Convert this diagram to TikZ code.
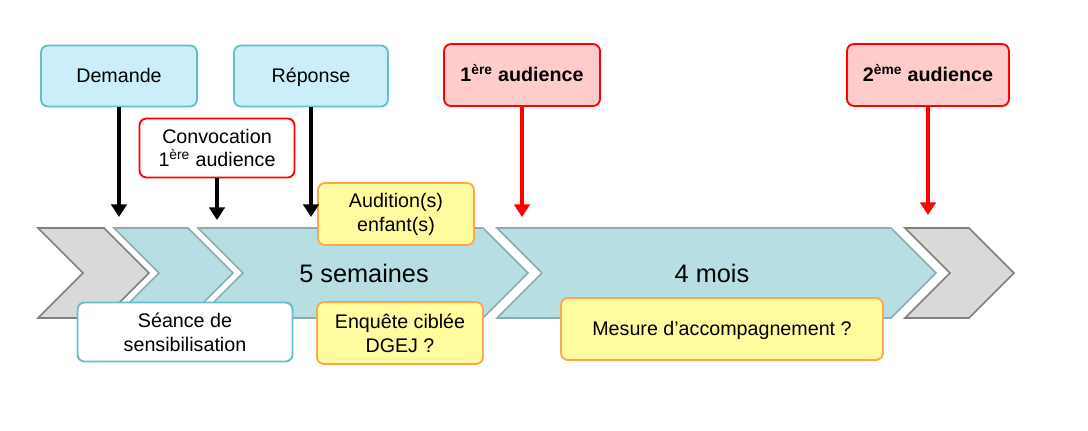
\documentclass[tikz,border=0pt]{standalone}
\usepackage{fontspec}
\setmainfont{Liberation Sans}
\usetikzlibrary{arrows.meta}

\definecolor{tealfill}{RGB}{183,222,226}
\definecolor{tealline}{RGB}{140,172,174}
\definecolor{greyfill}{RGB}{217,217,217}
\definecolor{greyline}{RGB}{128,128,128}
\definecolor{bluefill}{RGB}{204,238,250}
\definecolor{blueline}{RGB}{100,190,200}
\definecolor{pinkfill}{RGB}{255,204,204}
\definecolor{redline}{RGB}{255,0,0}
\definecolor{yelfill}{RGB}{255,252,160}
\definecolor{orangeline}{RGB}{252,168,72}

\tikzset{
    box/.style={rounded corners=5pt, line width=1.3pt, align=center,
        font=\fontsize{14}{17}\selectfont, inner sep=2pt},
    oneline/.style={text height=10pt, text depth=0.5pt},
    bluebox/.style={box, oneline, draw=blueline, fill=bluefill},
    pinkbox/.style={box, oneline, draw=redline, fill=pinkfill, font=\fontsize{14}{17}\selectfont\bfseries},
    redbox/.style={box, draw=redline, fill=white},
    whitebox/.style={box, draw=blueline, fill=white},
    yelbox/.style={box, draw=orangeline, fill=yelfill},
    blackarrow/.style={line width=2.5pt, black, -{Triangle[width=11pt,length=9pt]}},
    redarrow/.style={line width=2.5pt, redline, -{Triangle[width=11pt,length=9pt]}},
    span/.style={font=\fontsize{18}{20}\selectfont}
}

\begin{document}
\begin{tikzpicture}[x=0.025cm, y=-0.025cm]
    % Parameters
    \def\u{0.025cm}
    \def\tip{45}
    \def\top{228}
    \def\bot{318}
    \pgfmathtruncatemacro{\mid}{(\top+\bot)/2}

    \useasboundingbox (0,0) rectangle (1088,431);

    % Draw the chevrons
    \foreach \l/\r/\fillc/\linec in {38/104/greyfill/greyline, 114/188/tealfill/tealline,
                                     198/483/tealfill/tealline, 497/891/tealfill/tealline,
                                     905/969/greyfill/greyline} {
            \draw[fill=\fillc, draw=\linec, line width=1.1pt, line join=miter]
                (\l,\top) -- (\r,\top) -- (\r+\tip,\mid) -- (\r,\bot) -- (\l,\bot) -- (\l+\tip,\mid) -- cycle;
        }

    % Durations
    \node[span] (semaines) at (364,273) {5 semaines};
    \node[span] (mois) at (712,273) {4 mois};

    % Boxes above
    \node[bluebox, minimum width=156*\u, minimum height=61*\u] (demande) at (119,76) {Demande};
    \node[bluebox, minimum width=154*\u, minimum height=61*\u] (reponse) at (311,76) {Réponse};
    \node[pinkbox, minimum width=156*\u, minimum height=62*\u] (audA) at (522,75) {1\textsuperscript{ère} audience};
    \node[pinkbox, minimum width=162*\u, minimum height=62*\u] (audB) at (928,75) {2\textsuperscript{ème} audience};
    \node[redbox, minimum width=155*\u, minimum height=59*\u] (convoc) at (217,148) {Convocation\\1\textsuperscript{ère} audience};
    \node[yelbox, minimum width=156*\u, minimum height=62*\u] (audition) at (396,214) {Audition(s)\\enfant(s)};

    % Boxes below
    \node[whitebox, minimum width=215*\u, minimum height=59*\u] (seance) at (185,332) {Séance de\\sensibilisation};
    \node[yelbox, minimum width=166*\u, minimum height=62*\u] (enquete) at (400,333) {Enquête ciblée\\DGEJ ?};
    \node[yelbox, oneline, minimum width=322*\u, minimum height=62*\u] (mesure) at (722,329) {Mesure d’accompagnement ?};

    % Arrow ends
    \coordinate (endDemande) at (119,217);
    \coordinate (endConvoc) at (217,220);
    \coordinate (endReponse) at (311,217);
    \coordinate (endAudA) at (522,217);
    \coordinate (endAudB) at (928,215);

    % Add arrows
    \draw[blackarrow] (demande.south) -- (endDemande);
    \draw[blackarrow] (convoc.south) -- (endConvoc);
    \draw[blackarrow] (reponse.south) -- (endReponse);
    \draw[redarrow] (audA.south) -- (endAudA);
    \draw[redarrow] (audB.south) -- (endAudB);
\end{tikzpicture}
\end{document}
